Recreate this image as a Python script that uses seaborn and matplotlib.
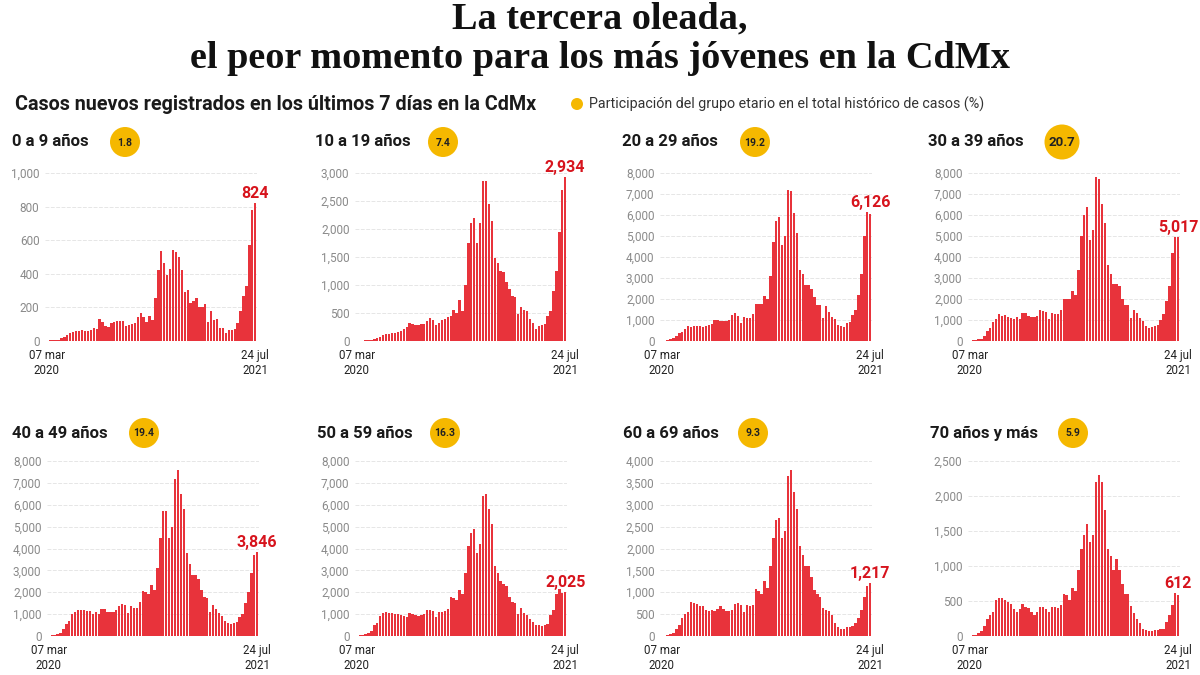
import numpy as np
import pandas as pd
import matplotlib
matplotlib.use("Agg")
import matplotlib.pyplot as plt
from matplotlib.patches import Circle
from matplotlib.ticker import FuncFormatter
import seaborn as sns

# -------------------------------------------------------
# Data (weekly new cases, 07 mar 2020 - 24 jul 2021)
# -------------------------------------------------------

age_groups = ["0 a 9 años", "10 a 19 años", "20 a 29 años", "30 a 39 años",
              "40 a 49 años", "50 a 59 años", "60 a 69 años", "70 años y más"]

shares = [1.8, 7.4, 19.2, 20.7, 19.4, 16.3, 9.3, 5.9]

latest_labels = ["824", "2,934", "6,126", "5,017", "3,846", "2,025", "1,217", "612"]

cases_0_9 = [2, 3, 3, 5, 8, 15, 22, 35, 45, 52, 58, 58, 68, 62, 62, 65, 80, 70,
             130, 115, 90, 82, 108, 112, 120, 122, 120, 90, 98, 100, 105, 140,
             168, 140, 115, 150, 125, 255, 420, 535, 465, 390, 430, 540, 530,
             500, 420, 290, 305, 225, 240, 255, 205, 200, 220, 115, 180, 125,
             130, 75, 75, 50, 65, 68, 70, 105, 180, 270, 330, 570, 780, 824]

cases_10_19 = [3, 5, 8, 12, 18, 25, 35, 50, 80, 110, 120, 125, 135, 150, 160,
               180, 220, 250, 330, 300, 280, 290, 310, 300, 350, 410, 370, 280,
               330, 380, 390, 420, 440, 560, 500, 730, 540, 1000, 1750, 2100,
               2200, 1750, 2100, 2850, 2850, 2450, 2150, 1480, 1400, 1250, 1240,
               1050, 920, 800, 780, 480, 600, 560, 530, 400, 320, 220, 260, 280,
               310, 450, 530, 900, 1250, 1950, 2700, 2934]

cases_20_29 = [10, 20, 40, 80, 150, 250, 380, 450, 550, 700, 650, 700, 700, 720,
               680, 700, 750, 800, 1000, 1000, 950, 950, 950, 1000, 1250, 1350,
               1200, 850, 1150, 1100, 1100, 1300, 1750, 1750, 1750, 2150, 2000,
               3100, 4700, 5700, 5900, 4550, 5000, 7200, 7150, 6100, 5150, 3400,
               3200, 2650, 2650, 2500, 2100, 1700, 1700, 1100, 1650, 1400, 1150,
               1050, 750, 700, 680, 850, 900, 1250, 1500, 2200, 3200, 5000, 6126,
               6050]

cases_30_39 = [10, 30, 60, 80, 100, 250, 500, 600, 900, 1050, 1300, 1200, 1250,
               1150, 1100, 1050, 1150, 1050, 1350, 1350, 1200, 1150, 1150, 1200,
               1500, 1450, 1400, 1050, 1350, 1300, 1300, 1500, 2000, 2000, 2000,
               2400, 2200, 3400, 5000, 6000, 6400, 4800, 5300, 7800, 7700, 6500,
               5600, 3600, 3200, 2700, 2700, 2600, 2000, 1700, 1700, 1100, 1500,
               1350, 1100, 950, 700, 600, 650, 700, 750, 1000, 1300, 1900, 2600,
               4200, 4950, 4950]

cases_40_49 = [10, 30, 60, 80, 150, 300, 550, 700, 1000, 1100, 1200, 1200, 1200,
               1150, 1150, 1000, 1100, 1000, 1250, 1250, 1100, 1100, 1100, 1200,
               1350, 1450, 1400, 1050, 1350, 1300, 1300, 1550, 2050, 2000, 1900,
               2350, 2100, 3100, 4500, 5700, 5700, 4500, 5000, 7200, 7600, 6500,
               5800, 3800, 3300, 2800, 2800, 2600, 2100, 1800, 1750, 1100, 1400,
               1250, 1050, 900, 700, 600, 550, 600, 650, 850, 1000, 1500, 2000,
               2900, 3700, 3846]

cases_50_59 = [10, 30, 60, 100, 150, 250, 500, 600, 900, 1050, 1100, 1050, 1050,
               1000, 1000, 950, 900, 850, 1050, 1000, 950, 900, 950, 1000, 1200,
               1200, 1150, 850, 1100, 1100, 1150, 1250, 1800, 1750, 1650, 2100,
               1900, 2900, 4100, 4700, 4900, 3800, 4200, 6400, 6500, 5800, 5100,
               3200, 2900, 2500, 2400, 2300, 1800, 1550, 1500, 1000, 1300, 1050,
               950, 800, 650, 500, 500, 450, 500, 550, 950, 1200, 1900, 2150,
               1950, 2025]

cases_60_69 = [5, 10, 20, 40, 80, 150, 250, 420, 500, 560, 780, 760, 730, 690,
               680, 600, 580, 600, 580, 620, 680, 620, 580, 570, 600, 740, 760,
               720, 540, 700, 680, 700, 1070, 1030, 960, 1250, 1100, 1600, 2250,
               2650, 2700, 2250, 2400, 3650, 3800, 3300, 2900, 2050, 1850, 1600,
               1600, 1350, 1050, 950, 900, 650, 600, 580, 480, 300, 200, 150, 150,
               200, 200, 230, 300, 420, 600, 900, 1150, 1217]

cases_70_plus = [5, 10, 20, 40, 70, 150, 250, 300, 350, 520, 540, 540, 520, 480,
                 460, 380, 350, 380, 460, 420, 400, 350, 300, 350, 420, 410, 380,
                 340, 410, 410, 400, 450, 600, 580, 520, 690, 650, 950, 1250, 1450,
                 1600, 1350, 1450, 2200, 2300, 2200, 1800, 1250, 1150, 950, 1100,
                 950, 750, 600, 600, 430, 330, 250, 180, 100, 80, 70, 70, 80, 90,
                 100, 100, 200, 300, 450, 612, 580]

all_cases = [cases_0_9, cases_10_19, cases_20_29, cases_30_39,
             cases_40_49, cases_50_59, cases_60_69, cases_70_plus]

y_tops = [1000, 3000, 8000, 8000, 8000, 8000, 4000, 2500]
y_steps = [200, 500, 1000, 1000, 1000, 1000, 500, 500]

# -------------------------------------------------------
# Layout (pixels on a 1200 x 675 canvas)
# -------------------------------------------------------

W, H = 1200, 675
panel_left = [45, 355, 660, 968, 47, 355, 660, 968]
panel_top = [173, 173, 173, 173, 461, 461, 461, 461]
panel_bottom = [341, 341, 341, 341, 636, 636, 636, 636]
panel_width = 212
title_x = [12, 315, 622, 928, 12, 317, 623, 930]
title_y = [142, 142, 142, 142, 433, 433, 433, 433]
bubble_x = [125, 443, 755, 1062, 144, 445, 753, 1073]

BAR_RED = "#e8333b"
LABEL_RED = "#d7141d"
YELLOW = "#f5b800"

sns.set_theme(style="white")
plt.rcParams["font.family"] = ["Roboto", "DejaVu Sans"]

fig = plt.figure(figsize=(12, 6.75), dpi=100)

# overlay axes in pixel coordinates for titles, bubbles, legend
ov = fig.add_axes([0, 0, 1, 1])
ov.set_xlim(0, W)
ov.set_ylim(H, 0)
ov.axis("off")

ov.text(600, 19, "La tercera oleada,", ha="center", va="center",
        fontsize=27.5, fontweight="bold", family="Liberation Serif", color="#111")
ov.text(600, 58, "el peor momento para los más jóvenes en la CdMx", ha="center",
        va="center", fontsize=27.5, fontweight="bold", family="Liberation Serif",
        color="#111")

ov.text(15, 104, "Casos nuevos registrados en los últimos 7 días en la CdMx",
        ha="left", va="center", fontsize=14.2, fontweight="bold", color="#1a1a1a")
ov.add_patch(Circle((577, 104), 6, color=YELLOW, lw=0))
ov.text(589, 104, "Participación del grupo etario en el total histórico de casos (%)",
        ha="left", va="center", fontsize=10.3, color="#333")

fmt = FuncFormatter(lambda v, p: f"{v:,.0f}")

for i, values in enumerate(all_cases):
    # title and bubble
    ov.text(title_x[i], title_y[i], age_groups[i], ha="left", va="center",
            fontsize=12, fontweight="bold", color="#1a1a1a")
    big = shares[i] == max(shares)
    r = 17.5 if big else 15
    ov.add_patch(Circle((bubble_x[i], title_y[i]), r, color=YELLOW, lw=0))
    ov.text(bubble_x[i], title_y[i] + 0.5, f"{shares[i]}", ha="center", va="center",
            fontsize=9.5 if big else 7.5, fontweight="bold", color="#222")

    # bar panel
    left = panel_left[i] / W
    bottom = 1 - panel_bottom[i] / H
    height = (panel_bottom[i] - panel_top[i]) / H
    ax = fig.add_axes([left, bottom, panel_width / W, height])

    df = pd.DataFrame({"week": np.arange(len(values)), "cases": values})
    sns.barplot(data=df, x="week", y="cases", color=BAR_RED, saturation=1,
                width=0.8, ax=ax, edgecolor="none")

    ax.set_xlim(-0.6, len(values) - 0.4)
    ax.set_ylim(0, y_tops[i])
    ax.set_yticks(np.arange(0, y_tops[i] + 1, y_steps[i]))
    ax.yaxis.set_major_formatter(fmt)
    ax.set_xticks([])
    ax.set_xlabel("")
    ax.set_ylabel("")
    ax.tick_params(axis="y", length=0, pad=4, labelsize=8.5, labelcolor="#8a8a8a")
    ax.grid(axis="y", color="#e6e6e6", linewidth=0.7, linestyle=(0, (4, 1.5)))
    ax.set_axisbelow(True)
    sns.despine(ax=ax, left=True, bottom=True)

    last = len(values) - 1
    top_val = max(values[-2:])
    ax.text(last, top_val + y_tops[i] * 0.012, latest_labels[i], ha="center",
            va="bottom", fontsize=11.5, fontweight="bold", color=LABEL_RED,
            clip_on=False)

    for xpos, label in [(0, "07 mar\n2020"), (last, "24 jul\n2021")]:
        ax.annotate(label, xy=(xpos, 0), xycoords=ax.get_xaxis_transform(),
                    xytext=(0, -5.5), textcoords="offset points",
                    ha="center", va="top", fontsize=8.3, color="#222",
                    linespacing=1.2, annotation_clip=False)

fig.savefig("out.png", dpi=100, facecolor="white")
